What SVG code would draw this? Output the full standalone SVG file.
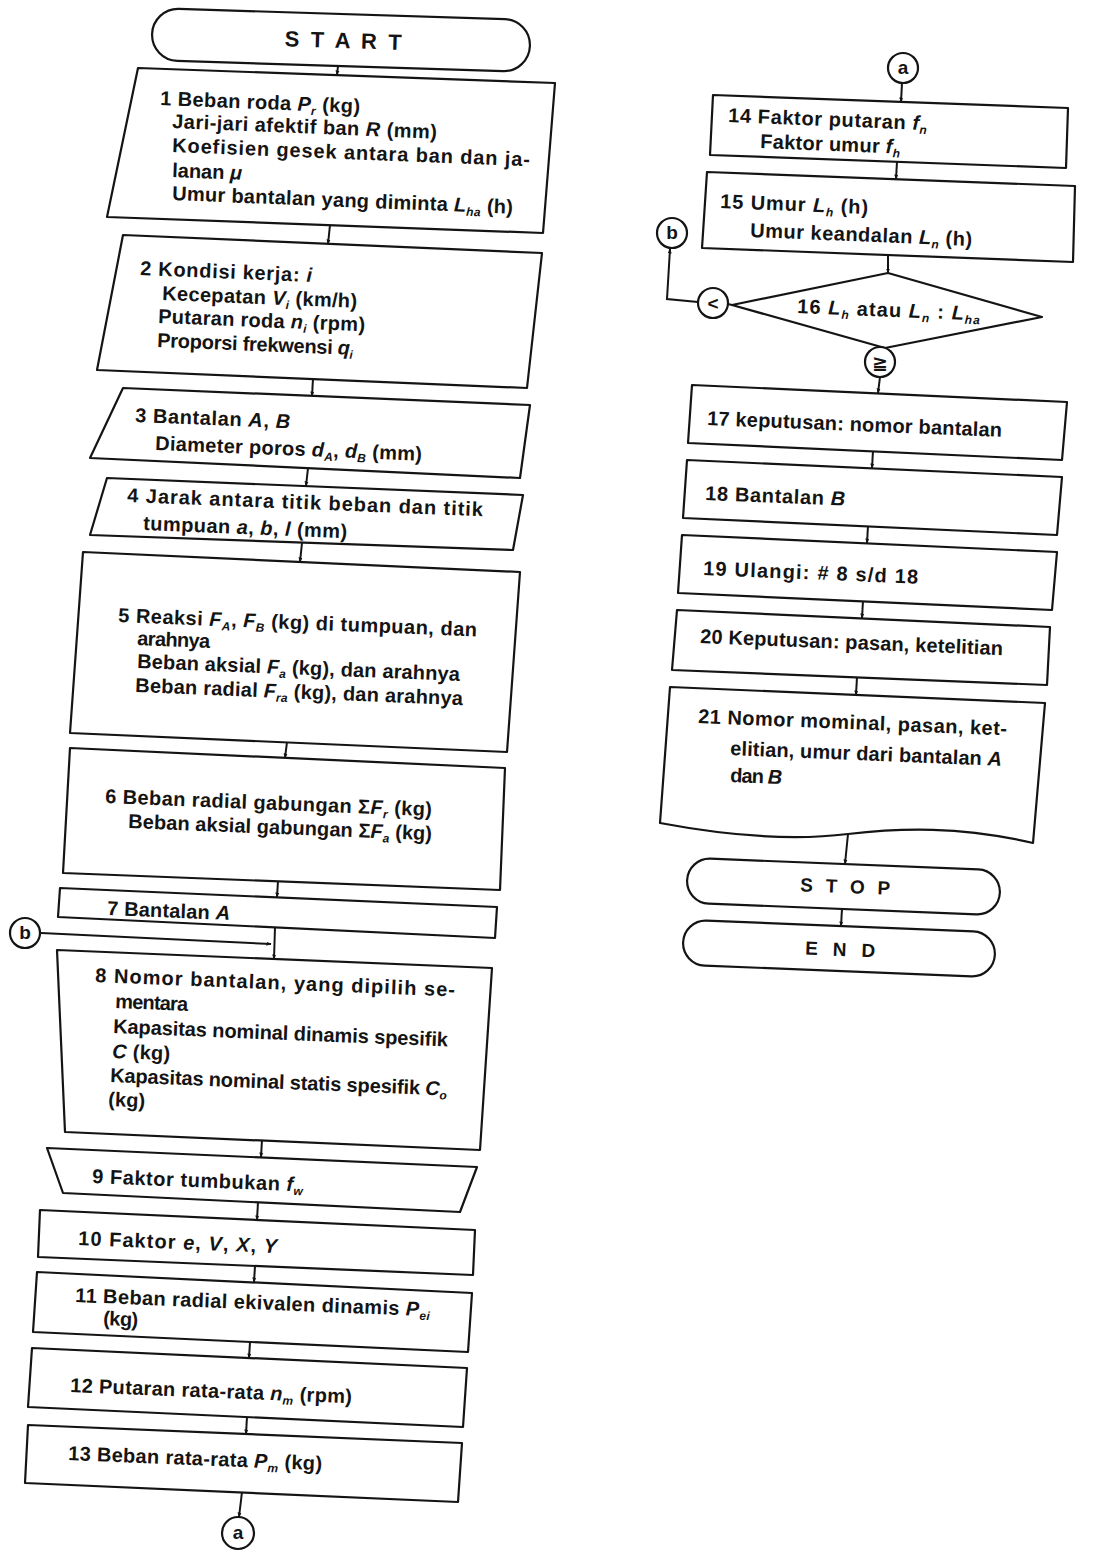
<svg xmlns="http://www.w3.org/2000/svg" width="1095" height="1551" viewBox="0 0 1095 1551">
  <defs>
    <style>
      .t { font-family: "Liberation Sans", "DejaVu Sans", Arial, sans-serif; font-size: 20px; font-weight: bold; fill: #141414; }
      .big { font-size: 22px; }
      .mid { font-size: 19px; }
      .v { font-style: italic; }
      .s { font-size: 12px; font-style: italic; }
      .box { fill: #ffffff; stroke: #141414; stroke-width: 2.2; stroke-linejoin: round; }
      .ln { fill: none; stroke: #141414; stroke-width: 2; }
      .c { text-anchor: middle; }
    </style>
    <marker id="arr" viewBox="0 0 10 10" refX="9" refY="5" markerWidth="5" markerHeight="5" orient="auto" markerUnits="userSpaceOnUse">
      <path d="M0,1 L10,5 L0,9 Z" fill="#141414"/>
    </marker>
  </defs>
  <rect width="1095" height="1551" fill="#ffffff"/>

  <!-- connectors -->
  <g id="connectors">
    <line class="ln" x1="338" y1="66" x2="337" y2="75" marker-end="url(#arr)"/>
    <line class="ln" x1="330" y1="225" x2="328" y2="244" marker-end="url(#arr)"/>
    <line class="ln" x1="313" y1="379" x2="312" y2="396" marker-end="url(#arr)"/>
    <line class="ln" x1="308" y1="468" x2="306" y2="486" marker-end="url(#arr)"/>
    <line class="ln" x1="302" y1="543" x2="300" y2="562" marker-end="url(#arr)"/>
    <line class="ln" x1="287" y1="742" x2="285" y2="758" marker-end="url(#arr)"/>
    <line class="ln" x1="278" y1="881" x2="277" y2="897" marker-end="url(#arr)"/>
    <line class="ln" x1="275" y1="927" x2="274" y2="959" marker-end="url(#arr)"/>
    <line class="ln" x1="41" y1="933" x2="271" y2="944" marker-end="url(#arr)"/>
    <line class="ln" x1="262" y1="1140" x2="261" y2="1157" marker-end="url(#arr)"/>
    <line class="ln" x1="258" y1="1202" x2="257" y2="1220" marker-end="url(#arr)"/>
    <line class="ln" x1="255" y1="1266" x2="254" y2="1282" marker-end="url(#arr)"/>
    <line class="ln" x1="250" y1="1342" x2="249" y2="1358" marker-end="url(#arr)"/>
    <line class="ln" x1="247" y1="1417" x2="246" y2="1434" marker-end="url(#arr)"/>
    <line class="ln" x1="242" y1="1492" x2="239" y2="1517" marker-end="url(#arr)"/>
    <line class="ln" x1="902" y1="83" x2="901" y2="102" marker-end="url(#arr)"/>
    <line class="ln" x1="897" y1="162" x2="896" y2="179" marker-end="url(#arr)"/>
    <line class="ln" x1="888" y1="255" x2="888" y2="273" marker-end="url(#arr)"/>
    <polyline class="ln" points="698,302 667,299 670,249" marker-end="url(#arr)"/>
    <line class="ln" x1="732" y1="305" x2="728" y2="304"/>
    <line class="ln" x1="885" y1="348" x2="881" y2="347"/>
    <line class="ln" x1="880" y1="377" x2="878" y2="393" marker-end="url(#arr)"/>
    <line class="ln" x1="873" y1="451" x2="872" y2="468" marker-end="url(#arr)"/>
    <line class="ln" x1="868" y1="526" x2="867" y2="543" marker-end="url(#arr)"/>
    <line class="ln" x1="863" y1="601" x2="862" y2="618" marker-end="url(#arr)"/>
    <line class="ln" x1="857" y1="677" x2="856" y2="695" marker-end="url(#arr)"/>
    <line class="ln" x1="848" y1="834" x2="845" y2="864" marker-end="url(#arr)"/>
    <line class="ln" x1="842" y1="909" x2="841" y2="926" marker-end="url(#arr)"/>
  </g>

  <!-- left column -->
  <g id="start">
    <rect class="box" x="152" y="14" width="378" height="52" rx="26" transform="rotate(1.8 341 40)"/>
    <text class="t big c" x="343" y="48" textLength="117" transform="rotate(1.8 343 48)">S T A R T</text>
  </g>

  <g id="n1">
    <polygon class="box" points="138,68 555,83 543,233 107,217"/>
    <text class="t" x="160" y="105" textLength="200" transform="rotate(2.3 160 105)">1 Beban roda <tspan class="v">P</tspan><tspan class="s" dy="4">r</tspan><tspan dy="-4"> (kg)</tspan></text>
    <text class="t" x="172" y="128" textLength="265" transform="rotate(2.3 172 128)">Jari-jari afektif ban <tspan class="v">R</tspan> (mm)</text>
    <text class="t" x="172" y="152" textLength="358" transform="rotate(2.3 172 152)">Koefisien gesek antara ban dan ja-</text>
    <text class="t" x="172" y="177" transform="rotate(2.3 172 177)">lanan <tspan class="v">μ</tspan></text>
    <text class="t" x="172" y="200" textLength="341" transform="rotate(2.3 172 200)">Umur bantalan yang diminta <tspan class="v">L</tspan><tspan class="s" dy="4">ha</tspan><tspan dy="-4"> (h)</tspan></text>
  </g>

  <g id="n2">
    <polygon class="box" points="123,235 542,253 527,388 97,370"/>
    <text class="t" x="140" y="275" textLength="172" transform="rotate(2.3 140 275)">2 Kondisi kerja: <tspan class="v">i</tspan></text>
    <text class="t" x="162" y="300" textLength="195" transform="rotate(2.3 162 300)">Kecepatan <tspan class="v">V</tspan><tspan class="s" dy="4">i</tspan><tspan dy="-4"> (km/h)</tspan></text>
    <text class="t" x="158" y="323" textLength="207" transform="rotate(2.3 158 323)">Putaran roda <tspan class="v">n</tspan><tspan class="s" dy="4">i</tspan><tspan dy="-4"> (rpm)</tspan></text>
    <text class="t" x="157" y="347" textLength="196" transform="rotate(2.3 157 347)">Proporsi frekwensi <tspan class="v">q</tspan><tspan class="s" dy="4">i</tspan></text>
  </g>

  <g id="n3">
    <polygon class="box" points="123,388 530,405 520,478 90,458"/>
    <text class="t" x="135" y="422" textLength="155" transform="rotate(2.3 135 422)">3 Bantalan <tspan class="v">A</tspan>, <tspan class="v">B</tspan></text>
    <text class="t" x="155" y="450" textLength="267" transform="rotate(2.3 155 450)">Diameter poros <tspan class="v">d</tspan><tspan class="s" dy="4">A</tspan><tspan dy="-4">, </tspan><tspan class="v">d</tspan><tspan class="s" dy="4">B</tspan><tspan dy="-4"> (mm)</tspan></text>
  </g>

  <g id="n4">
    <polygon class="box" points="107,478 523,495 513,550 90,535"/>
    <text class="t" x="127" y="502" textLength="356" transform="rotate(2.3 127 502)">4 Jarak antara titik beban dan titik</text>
    <text class="t" x="143" y="530" textLength="204" transform="rotate(2.3 143 530)">tumpuan <tspan class="v">a</tspan>, <tspan class="v">b</tspan>, <tspan class="v">l</tspan> (mm)</text>
  </g>

  <g id="n5">
    <polygon class="box" points="83,552 520,572 507,752 70,733"/>
    <text class="t" x="118" y="622" textLength="359" transform="rotate(2.3 118 622)">5 Reaksi <tspan class="v">F</tspan><tspan class="s" dy="4">A</tspan><tspan dy="-4">, </tspan><tspan class="v">F</tspan><tspan class="s" dy="4">B</tspan><tspan dy="-4"> (kg) di tumpuan, dan</tspan></text>
    <text class="t" x="137" y="645" textLength="73" transform="rotate(2.3 137 645)">arahnya</text>
    <text class="t" x="137" y="668" textLength="323" transform="rotate(2.3 137 668)">Beban aksial <tspan class="v">F</tspan><tspan class="s" dy="4">a</tspan><tspan dy="-4"> (kg), dan arahnya</tspan></text>
    <text class="t" x="135" y="692" textLength="328" transform="rotate(2.3 135 692)">Beban radial <tspan class="v">F</tspan><tspan class="s" dy="4">ra</tspan><tspan dy="-4"> (kg), dan arahnya</tspan></text>
  </g>

  <g id="n6">
    <polygon class="box" points="70,748 505,768 500,890 63,873"/>
    <text class="t" x="105" y="803" textLength="327" transform="rotate(2.3 105 803)">6 Beban radial gabungan Σ<tspan class="v">F</tspan><tspan class="s" dy="4">r</tspan><tspan dy="-4"> (kg)</tspan></text>
    <text class="t" x="128" y="828" textLength="304" transform="rotate(2.3 128 828)">Beban aksial gabungan Σ<tspan class="v">F</tspan><tspan class="s" dy="4">a</tspan><tspan dy="-4"> (kg)</tspan></text>
  </g>

  <g id="n7">
    <polygon class="box" points="60,888 497,907 495,938 58,917"/>
    <text class="t" x="107" y="915" textLength="123" transform="rotate(2.3 107 915)">7 Bantalan <tspan class="v">A</tspan></text>
  </g>

  <g id="conn-b-left">
    <circle class="box" cx="25" cy="933" r="15"/>
    <text class="t mid c" x="25" y="939">b</text>
  </g>

  <g id="n8">
    <polygon class="box" points="57,950 492,968 480,1150 65,1132"/>
    <text class="t" x="95" y="982" textLength="360" transform="rotate(2.3 95 982)">8 Nomor bantalan, yang dipilih se-</text>
    <text class="t" x="115" y="1008" textLength="73" transform="rotate(2.3 115 1008)">mentara</text>
    <text class="t" x="113" y="1033" textLength="335" transform="rotate(2.3 113 1033)">Kapasitas nominal dinamis spesifik</text>
    <text class="t" x="112" y="1058" textLength="58" transform="rotate(2.3 112 1058)"><tspan class="v">C</tspan> (kg)</text>
    <text class="t" x="110" y="1082" textLength="337" transform="rotate(2.3 110 1082)">Kapasitas nominal statis spesifik <tspan class="v">C</tspan><tspan class="s" dy="4">o</tspan></text>
    <text class="t" x="108" y="1106" textLength="37" transform="rotate(2.3 108 1106)">(kg)</text>
  </g>

  <g id="n9">
    <polygon class="box" points="47,1148 477,1167 460,1212 63,1193"/>
    <text class="t" x="92" y="1183" textLength="211" transform="rotate(2.3 92 1183)">9 Faktor tumbukan <tspan class="v">f</tspan><tspan class="s" dy="4">w</tspan></text>
  </g>

  <g id="n10">
    <polygon class="box" points="40,1210 475,1230 473,1275 38,1257"/>
    <text class="t" x="78" y="1245" textLength="199" transform="rotate(2.3 78 1245)">10 Faktor <tspan class="v">e</tspan>, <tspan class="v">V</tspan>, <tspan class="v">X</tspan>, <tspan class="v">Y</tspan></text>
  </g>

  <g id="n11">
    <polygon class="box" points="37,1272 472,1293 468,1352 33,1332"/>
    <text class="t" x="75" y="1302" textLength="355" transform="rotate(2.3 75 1302)">11 Beban radial ekivalen dinamis <tspan class="v">P</tspan><tspan class="s" dy="4">ei</tspan></text>
    <text class="t" x="103" y="1325" textLength="35" transform="rotate(2.3 103 1325)">(kg)</text>
  </g>

  <g id="n12">
    <polygon class="box" points="32,1348 467,1368 463,1427 28,1407"/>
    <text class="t" x="70" y="1392" textLength="282" transform="rotate(2.3 70 1392)">12 Putaran rata-rata <tspan class="v">n</tspan><tspan class="s" dy="4">m</tspan><tspan dy="-4"> (rpm)</tspan></text>
  </g>

  <g id="n13">
    <polygon class="box" points="28,1425 462,1443 458,1502 25,1483"/>
    <text class="t" x="68" y="1460" textLength="254" transform="rotate(2.3 68 1460)">13 Beban rata-rata <tspan class="v">P</tspan><tspan class="s" dy="4">m</tspan><tspan dy="-4"> (kg)</tspan></text>
  </g>

  <g id="conn-a-out">
    <circle class="box" cx="238" cy="1533" r="16"/>
    <text class="t mid c" x="238" y="1539">a</text>
  </g>

  <!-- right column -->
  <g id="conn-a-in">
    <circle class="box" cx="903" cy="68" r="15"/>
    <text class="t mid c" x="903" y="74">a</text>
  </g>

  <g id="n14">
    <polygon class="box" points="713,95 1068,108 1066,168 710,155"/>
    <text class="t" x="728" y="122" textLength="199" transform="rotate(2.3 728 122)">14 Faktor putaran <tspan class="v">f</tspan><tspan class="s" dy="4">n</tspan></text>
    <text class="t" x="760" y="148" textLength="140" transform="rotate(2.3 760 148)">Faktor umur <tspan class="v">f</tspan><tspan class="s" dy="4">h</tspan></text>
  </g>

  <g id="n15">
    <polygon class="box" points="707,172 1075,186 1073,262 702,248"/>
    <text class="t" x="720" y="208" textLength="148" transform="rotate(2.3 720 208)">15 Umur <tspan class="v">L</tspan><tspan class="s" dy="4">h</tspan><tspan dy="-4"> (h)</tspan></text>
    <text class="t" x="750" y="237" textLength="222" transform="rotate(2.3 750 237)">Umur keandalan <tspan class="v">L</tspan><tspan class="s" dy="4">n</tspan><tspan dy="-4"> (h)</tspan></text>
  </g>

  <g id="n16">
    <polygon class="box" points="888,273 1042,317 885,348 732,305"/>
    <text class="t" x="797" y="313" textLength="183" transform="rotate(2.3 797 313)">16 <tspan class="v">L</tspan><tspan class="s" dy="4">h</tspan><tspan dy="-4"> atau </tspan><tspan class="v">L</tspan><tspan class="s" dy="4">n</tspan><tspan dy="-4"> : </tspan><tspan class="v">L</tspan><tspan class="s" dy="4">ha</tspan></text>
  </g>

  <g id="conn-b-right">
    <circle class="box" cx="672" cy="233" r="15"/>
    <text class="t mid c" x="672" y="239">b</text>
  </g>

  <g id="lt">
    <circle class="box" cx="713" cy="303" r="15"/>
    <text class="t mid c" x="713" y="310">&lt;</text>
  </g>

  <g id="ge">
    <circle class="box" cx="880" cy="362" r="15"/>
    <text class="t mid c" x="880" y="369">≧</text>
  </g>

  <g id="n17">
    <polygon class="box" points="692,385 1067,402 1062,460 688,443"/>
    <text class="t" x="707" y="425" textLength="295" transform="rotate(2.3 707 425)">17 keputusan: nomor bantalan</text>
  </g>

  <g id="n18">
    <polygon class="box" points="687,460 1062,477 1057,535 683,518"/>
    <text class="t" x="705" y="500" textLength="140" transform="rotate(2.3 705 500)">18 Bantalan <tspan class="v">B</tspan></text>
  </g>

  <g id="n19">
    <polygon class="box" points="682,535 1057,552 1052,610 678,593"/>
    <text class="t" x="703" y="575" textLength="215" transform="rotate(2.3 703 575)">19 Ulangi: # 8 s/d 18</text>
  </g>

  <g id="n20">
    <polygon class="box" points="677,610 1050,627 1047,685 672,670"/>
    <text class="t" x="700" y="643" textLength="303" transform="rotate(2.3 700 643)">20 Keputusan: pasan, ketelitian</text>
  </g>

  <g id="n21">
    <path class="box" d="M670,687 L1045,703 L1033,843 C960,826 900,828 848,834 C800,840 740,838 660,823 Z"/>
    <text class="t" x="698" y="723" textLength="309" transform="rotate(2.3 698 723)">21 Nomor mominal, pasan, ket-</text>
    <text class="t" x="730" y="755" textLength="272" transform="rotate(2.3 730 755)">elitian, umur dari bantalan <tspan class="v">A</tspan></text>
    <text class="t" x="730" y="782" textLength="52" transform="rotate(2.3 730 782)">dan <tspan class="v">B</tspan></text>
  </g>

  <g id="stop">
    <rect class="box" x="687" y="864" width="313" height="45" rx="22.5" transform="rotate(2.3 843 886)"/>
    <text class="t mid c" x="845" y="893" textLength="90" transform="rotate(2.3 845 893)">S T O P</text>
  </g>

  <g id="end">
    <rect class="box" x="683" y="926" width="312" height="45" rx="22.5" transform="rotate(2.3 839 948)"/>
    <text class="t mid c" x="840" y="956" textLength="70" transform="rotate(2.3 840 956)">E N D</text>
  </g>
</svg>
